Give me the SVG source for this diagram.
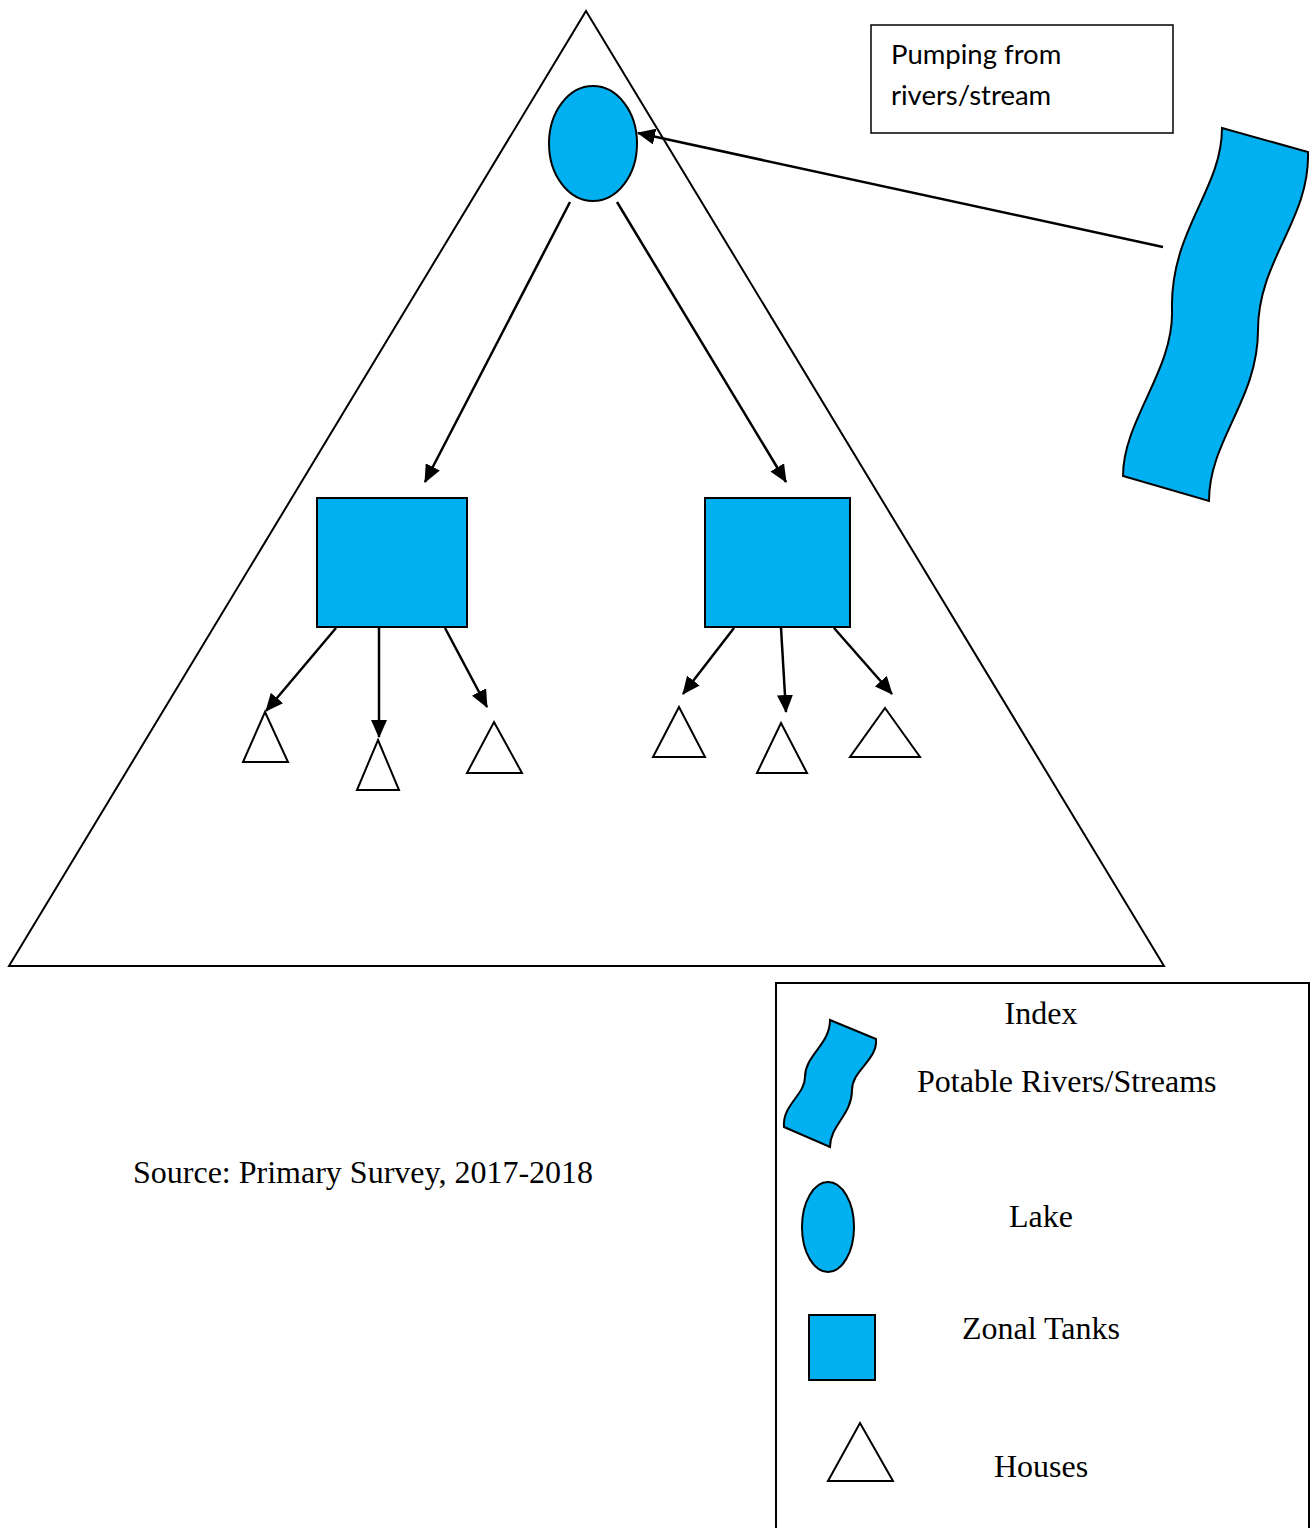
<svg xmlns="http://www.w3.org/2000/svg" width="1314" height="1528" viewBox="0 0 1314 1528">
<style>
.blue{fill:#00B0F0;stroke:#000;stroke-width:2}
.house{fill:#fff;stroke:#000;stroke-width:2}
.edge{stroke:#000;stroke-width:2.5;fill:none;marker-end:url(#ah)}
.serif{font-family:"Liberation Serif","Times New Roman",serif;font-size:32px;fill:#000}
.sans{font-family:Lato,"Open Sans",sans-serif;font-size:27.5px;fill:#000}
</style>
<defs>
<marker id="ah" markerUnits="userSpaceOnUse" markerWidth="18" markerHeight="16" viewBox="0 0 18 16" refX="17" refY="8" orient="auto">
<path d="M0,0 L18,8 L0,16 Z" fill="#000"/>
</marker>
</defs>
<rect width="1314" height="1528" fill="#fff"/>
<g id="region"><polygon points="586,11 1164,966 9,966" fill="none" stroke="#000" stroke-width="2"/></g>
<g id="label-pumping">
<rect x="871" y="25" width="302" height="108" fill="#fff" stroke="#000" stroke-width="1.5"/>
<text class="sans" x="891" y="64">Pumping from</text>
<text class="sans" x="891" y="105">rivers/stream</text>
</g>
<g id="river"><path class="blue" d="M1222,128 L1308,152 C1310,220 1258,260 1258,330 C1258,400 1209,440 1209,501 L1123,476 C1123,420 1174,370 1172,310 C1170,230 1222,190 1222,128 Z"/></g>
<g id="lake"><ellipse class="blue" cx="593" cy="143.5" rx="44" ry="57.5"/></g>
<g id="tank1"><rect class="blue" x="317" y="498" width="150" height="129"/></g>
<g id="tank2"><rect class="blue" x="705" y="498" width="145" height="129"/></g>
<g id="house1"><polygon class="house" points="265,712 288,762 243,762"/></g>
<g id="house2"><polygon class="house" points="378,740 399,790 357,790"/></g>
<g id="house3"><polygon class="house" points="494,722 522,773 467,773"/></g>
<g id="house4"><polygon class="house" points="679,707 705,757 653,757"/></g>
<g id="house5"><polygon class="house" points="781,723 807,773 757,773"/></g>
<g id="house6"><polygon class="house" points="885,708 920,757 850,757"/></g>
<g id="connectors">
<line class="edge" x1="1163" y1="247" x2="638" y2="133"/>
<line class="edge" x1="570" y1="202" x2="425" y2="482"/>
<line class="edge" x1="617" y1="202" x2="786" y2="482"/>
<line class="edge" x1="336" y1="628" x2="266" y2="711"/>
<line class="edge" x1="379" y1="628" x2="379" y2="737"/>
<line class="edge" x1="445" y1="628" x2="487" y2="707"/>
<line class="edge" x1="734" y1="628" x2="683" y2="694"/>
<line class="edge" x1="781" y1="628" x2="786" y2="712"/>
<line class="edge" x1="834" y1="628" x2="892" y2="694"/>
</g>
<g id="source"><text class="serif" x="133" y="1183">Source: Primary Survey, 2017-2018</text></g>
<g id="legend">
<rect x="776" y="983" width="533" height="560" fill="#fff" stroke="#000" stroke-width="2"/>
<text class="serif" x="1041" y="1024" text-anchor="middle">Index</text>
<path class="blue" d="M830,1020 L876,1039 C878,1060 852,1070 852,1090 C852,1115 830,1125 830,1147 L784,1127 C782,1105 805,1095 805,1077 C805,1055 830,1045 830,1020 Z"/>
<text class="serif" x="917" y="1092">Potable Rivers/Streams</text>
<ellipse class="blue" cx="828" cy="1227" rx="26" ry="45"/>
<text class="serif" x="1041" y="1227" text-anchor="middle">Lake</text>
<rect class="blue" x="809" y="1315" width="66" height="65"/>
<text class="serif" x="1041" y="1339" text-anchor="middle">Zonal Tanks</text>
<polygon class="house" points="860,1423 893,1481 828,1481"/>
<text class="serif" x="1041" y="1477" text-anchor="middle">Houses</text>
</g>
</svg>
